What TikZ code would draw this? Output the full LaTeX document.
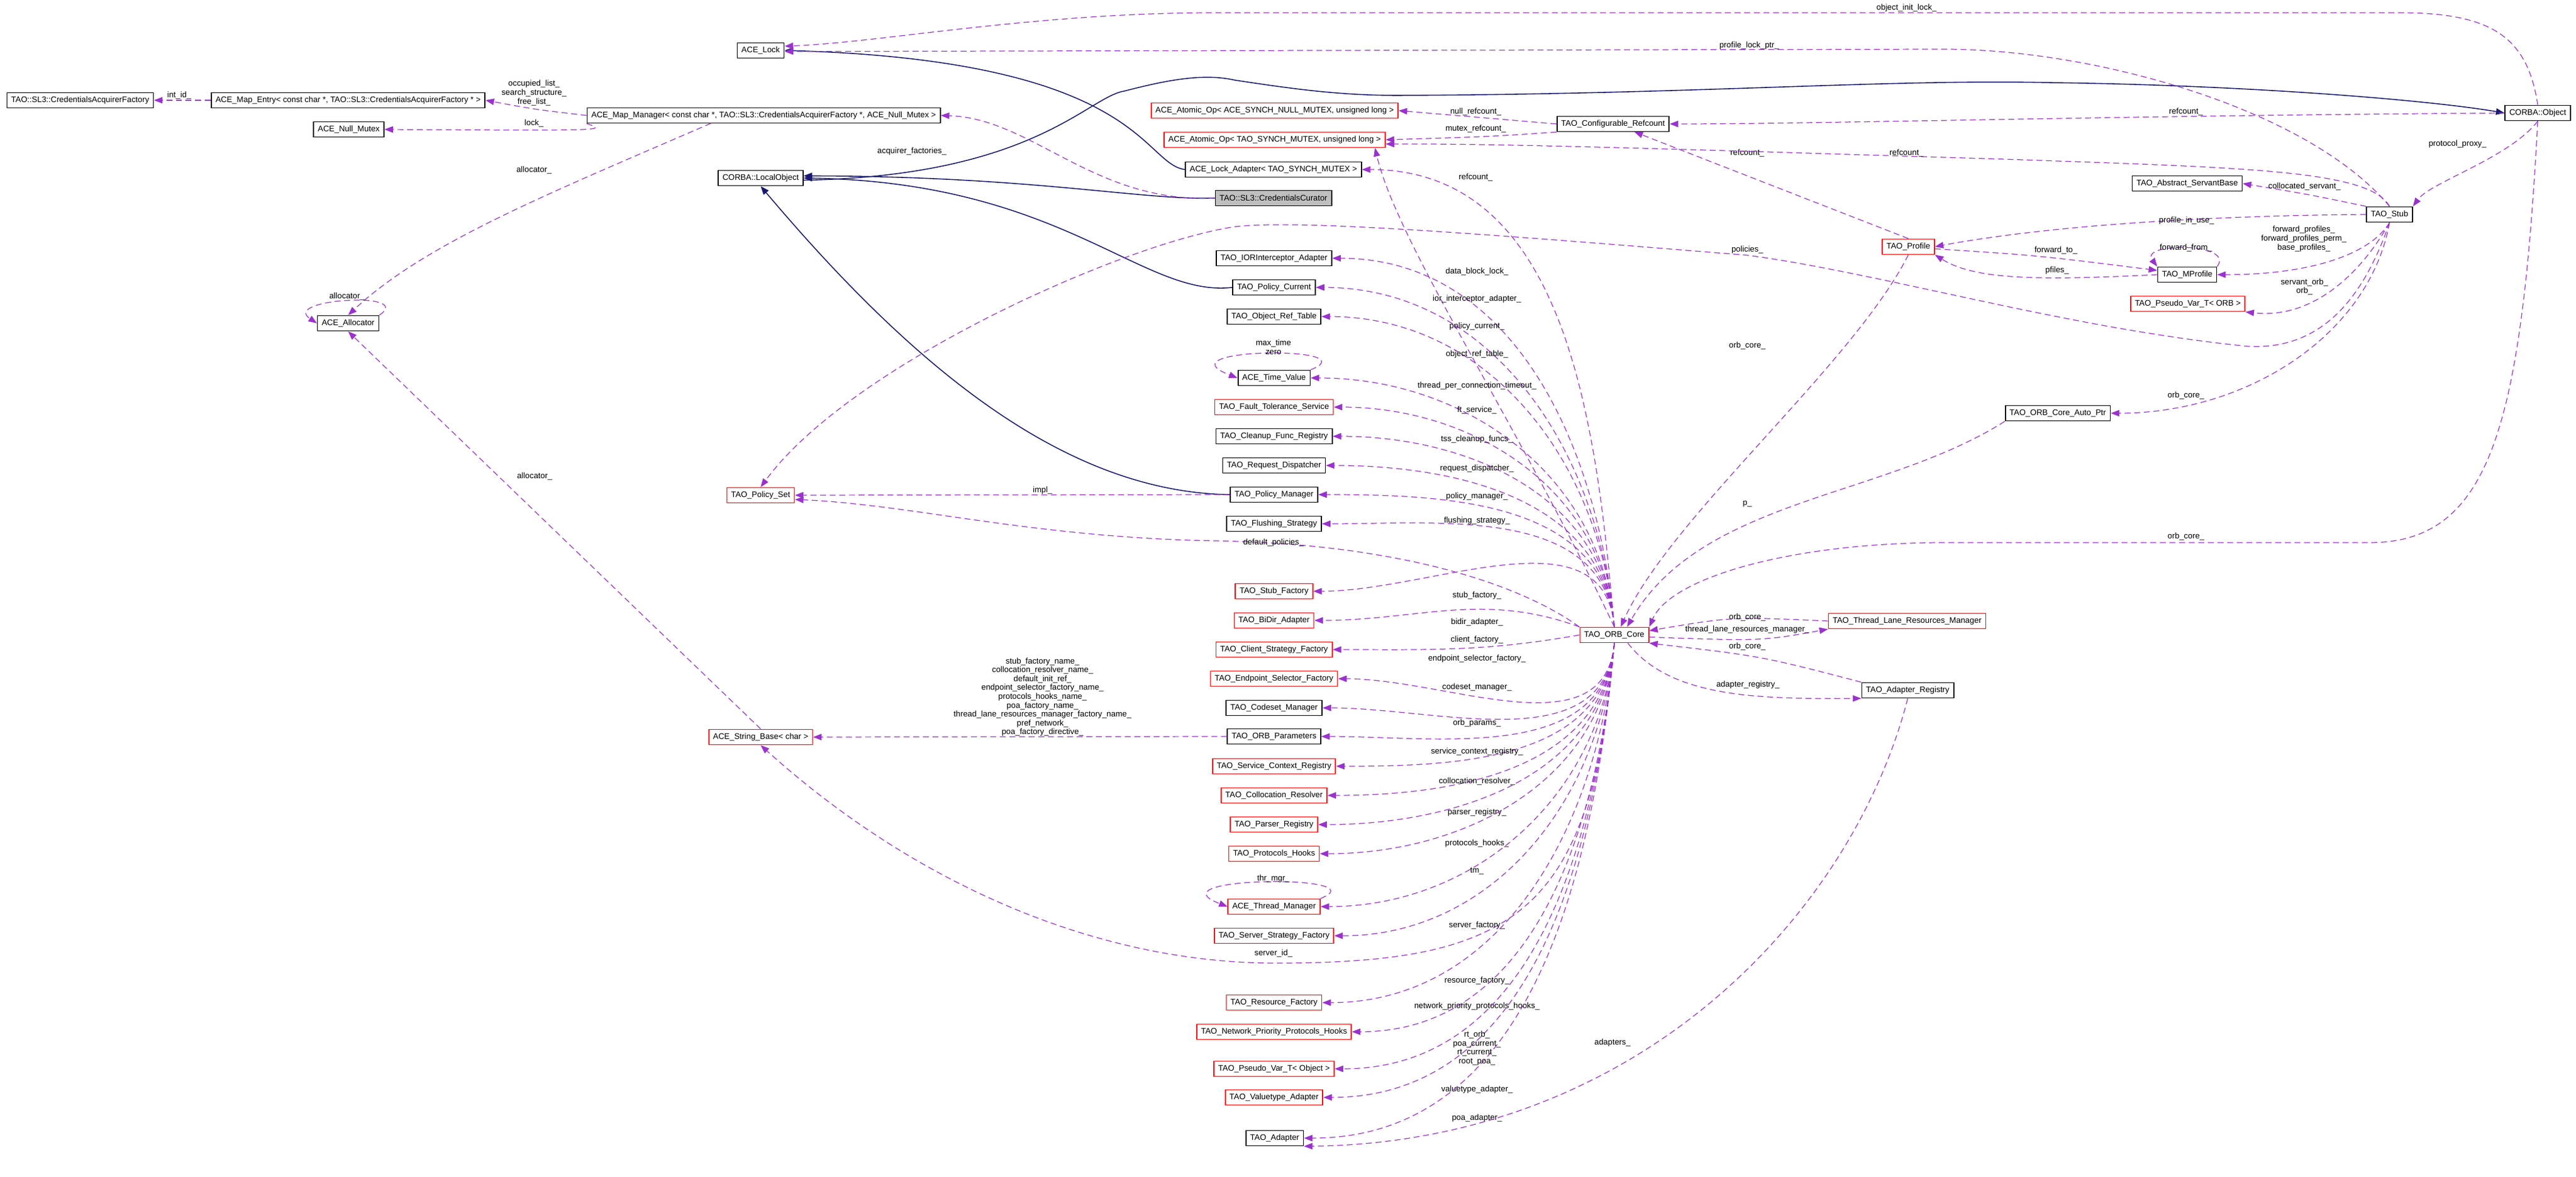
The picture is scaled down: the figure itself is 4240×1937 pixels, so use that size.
\documentclass[tikz,border=0pt]{standalone}
\usepackage{fontspec}
\setmainfont{Liberation Sans}
\usepackage{tikz}
\usetikzlibrary{arrows.meta,positioning}
\definecolor{usepurple}{HTML}{9A32CD}
\definecolor{inhnavy}{HTML}{191970}
\definecolor{curgray}{HTML}{BFBFBF}

\begin{document}
\begin{tikzpicture}[x=0.01cm, y=-0.01cm,
    cls/.style={rectangle, draw=black, fill=white, line width=0.5pt, minimum height=0.25cm,
                inner xsep=0.07cm, inner ysep=0pt, font=\fontsize{3.8}{4.15}\selectfont},
    redcls/.style={cls, draw=red},
    curcls/.style={cls, fill=curgray},
    lbl/.style={align=center, inner sep=0pt, font=\fontsize{3.8}{4.15}\selectfont},
    use/.style={draw=usepurple, line width=0.35pt, dash pattern=on 2.8pt off 1.7pt,
                -{Triangle[length=4pt,width=3pt,fill=usepurple]}},
    inh/.style={draw=inhnavy, line width=0.45pt, -{Triangle[length=4pt,width=3pt,fill=inhnavy]}}
]
    \useasboundingbox (0,0) rectangle (4240,1937);

    % left part
    \node[cls] (fac) at (132,165) {TAO::SL3::CredentialsAcquirerFactory};
    \node[cls] (mapentry) at (573,165) {ACE\_Map\_Entry< const char *, TAO::SL3::CredentialsAcquirerFactory * >};
    \node[cls] (nullmutex) at (574,213) {ACE\_Null\_Mutex};
    \node[cls] (mapmgr) at (1257,190) {ACE\_Map\_Manager< const char *, TAO::SL3::CredentialsAcquirerFactory *, ACE\_Null\_Mutex >};
    \node[cls] (acelock) at (1252,83) {ACE\_Lock};
    \node[cls] (localobj) at (1252,293) {CORBA::LocalObject};
    \node[cls] (alloc) at (573,532) {ACE\_Allocator};
    \node[redcls] (policyset) at (1252,815) {TAO\_Policy\_Set};
    \node[redcls] (strbase) at (1252,1213) {ACE\_String\_Base< char >};

    % middle column
    \node[redcls] (atnull) at (2098,182) {ACE\_Atomic\_Op< ACE\_SYNCH\_NULL\_MUTEX, unsigned long >};
    \node[redcls] (atmutex) at (2098,230) {ACE\_Atomic\_Op< TAO\_SYNCH\_MUTEX, unsigned long >};
    \node[cls] (lockadp) at (2096,279) {ACE\_Lock\_Adapter< TAO\_SYNCH\_MUTEX >};
    \node[curcls] (curator) at (2096,326) {TAO::SL3::CredentialsCurator};
    \node[cls] (iora) at (2097,425) {TAO\_IORInterceptor\_Adapter};
    \node[cls] (polcur) at (2097,473) {TAO\_Policy\_Current};
    \node[cls] (objref) at (2097,521) {TAO\_Object\_Ref\_Table};
    \node[cls] (timeval) at (2097,622) {ACE\_Time\_Value};
    \node[redcls] (ftsvc) at (2097,670) {TAO\_Fault\_Tolerance\_Service};
    \node[cls] (cleanup) at (2097,718) {TAO\_Cleanup\_Func\_Registry};
    \node[cls] (reqdisp) at (2097,766) {TAO\_Request\_Dispatcher};
    \node[cls] (polmgr) at (2097,814) {TAO\_Policy\_Manager};
    \node[cls] (flush) at (2097,862) {TAO\_Flushing\_Strategy};
    \node[redcls] (stubfac) at (2097,973) {TAO\_Stub\_Factory};
    \node[redcls] (bidir) at (2097,1021) {TAO\_BiDir\_Adapter};
    \node[redcls] (clientfac) at (2097,1069) {TAO\_Client\_Strategy\_Factory};
    \node[redcls] (endpt) at (2097,1117) {TAO\_Endpoint\_Selector\_Factory};
    \node[cls] (codeset) at (2097,1165) {TAO\_Codeset\_Manager};
    \node[cls] (orbparams) at (2097,1212) {TAO\_ORB\_Parameters};
    \node[redcls] (svcctx) at (2097,1261) {TAO\_Service\_Context\_Registry};
    \node[redcls] (colloc) at (2097,1309) {TAO\_Collocation\_Resolver};
    \node[redcls] (parser) at (2097,1357) {TAO\_Parser\_Registry};
    \node[redcls] (protohooks) at (2097,1405) {TAO\_Protocols\_Hooks};
    \node[redcls] (thrmgr) at (2097,1492) {ACE\_Thread\_Manager};
    \node[redcls] (serverfac) at (2097,1540) {TAO\_Server\_Strategy\_Factory};
    \node[redcls] (resfac) at (2097,1650) {TAO\_Resource\_Factory};
    \node[redcls] (netprio) at (2097,1698) {TAO\_Network\_Priority\_Protocols\_Hooks};
    \node[redcls] (pvobj) at (2097,1759) {TAO\_Pseudo\_Var\_T< Object >};
    \node[redcls] (valtype) at (2097,1806) {TAO\_Valuetype\_Adapter};
    \node[cls] (adapter) at (2098,1873) {TAO\_Adapter};

    % right part
    \node[redcls] (orbcore) at (2657,1045) {TAO\_ORB\_Core};
    \node[cls] (cfgref) at (2655,204) {TAO\_Configurable\_Refcount};
    \node[cls] (corbaobj) at (4177,186) {CORBA::Object};
    \node[cls] (servant) at (3600,302) {TAO\_Abstract\_ServantBase};
    \node[cls] (stub) at (3933,353) {TAO\_Stub};
    \node[redcls] (profile) at (3141,406) {TAO\_Profile};
    \node[cls] (mprofile) at (3600,452) {TAO\_MProfile};
    \node[redcls] (pvorb) at (3601,500) {TAO\_Pseudo\_Var\_T< ORB >};
    \node[cls] (autoptr) at (3387,680) {TAO\_ORB\_Core\_Auto\_Ptr};
    \node[redcls] (tlrm) at (3139,1022) {TAO\_Thread\_Lane\_Resources\_Manager};
    \node[cls] (adreg) at (3140,1136) {TAO\_Adapter\_Registry};

    % inheritance
    \draw[inh] (lockadp.west) .. controls (1880,270) and (1880,100) .. (acelock.east);
    \draw[inh] (curator.west) .. controls (1880,330) and (1700,290) .. ([yshift=1pt]localobj.east);
    \draw[inh] (polcur.west) .. controls (1880,490) and (1750,300) .. (localobj.east);
    \draw[inh] (polmgr.west) .. controls (1750,810) and (1500,600) .. (localobj.south);
    \draw[inh] ([yshift=-1pt]localobj.east) .. controls (1700,290) and (1790,160) .. (1850,150)
        .. controls (1920,132) and (1980,120) .. (2033,132)
        .. controls (2120,145) and (2200,157) .. (2300,157)
        .. controls (2800,155) and (3100,130) .. (3374,136)
        .. controls (3700,140) and (4000,165) .. (corbaobj.west);

    % ACE side
    \draw[use] (curator.west) .. controls (1800,335) and (1700,195) .. (mapmgr.east);
    \node[lbl] (lacq) at (1501,249) {acquirer\_factories\_};
    \draw[use] (mapmgr.west) .. controls (880,180) .. (mapentry.east);
    \node[lbl] (lmap) at (879,153) {occupied\_list\_\\search\_structure\_\\free\_list\_};
    \draw[use] (mapentry.west) -- (fac.east);
    \node[lbl] (lintid) at (295,157) {int\_id\_};
    \draw[use] (mapmgr.south west) .. controls (1000,215) .. (nullmutex.east);
    \node[lbl] (llock) at (879,203) {lock\_};
    \draw[use] (1170,203) .. controls (900,320) and (700,400) .. (alloc.north);
    \node[lbl] (lalloc1) at (879,280) {allocator\_};
    \draw[use] (alloc.north east) .. controls +(60,-40) and +(-60,-40) .. (alloc.west);
    \node[lbl] (lalloc2) at (571,488) {allocator\_};
    \draw[use] (strbase.north) -- (alloc.south);
    \node[lbl] (lalloc3) at (880,784) {allocator\_};
    \draw[use] (polmgr.west) -- (policyset.east);
    \node[lbl] (limpl) at (1716,807) {impl\_};
    \draw[use] (orbparams.west) -- (strbase.east);
    \node[lbl] (lnames) at (1716,1147) {stub\_factory\_name\_\\collocation\_resolver\_name\_\\default\_init\_ref\_\\endpoint\_selector\_factory\_name\_\\protocols\_hooks\_name\_\\poa\_factory\_name\_\\thread\_lane\_resources\_manager\_factory\_name\_\\pref\_network\_\\poa\_factory\_directive\_};
    \draw[use] (orbcore.south) .. controls (2620,1500) and (2500,1585) .. (2100,1585)
        .. controls (1800,1585) and (1500,1450) .. (strbase.south);
    \node[lbl] (lsrvid) at (2096,1569) {server\_id\_};
    \draw[use] (orbcore.north west) .. controls (2500,960) and (2300,895) .. (2000,890)
        .. controls (1700,885) and (1500,830) .. ([yshift=-2pt]policyset.east);
    \node[lbl] (ldefpol) at (2096,893) {default\_policies\_};

    % locks and refcounts
    \draw[use] (corbaobj.north) .. controls (4160,60) and (4100,21) .. (3950,21) -- (2000,21)
        .. controls (1700,21) and (1450,70) .. ([yshift=2pt]acelock.east);
    \node[lbl] (loil) at (3138,13) {object\_init\_lock\_};
    \draw[use] (stub.north) .. controls (3800,180) and (3450,81) .. (3200,81) -- ([yshift=-0.5pt]acelock.east);
    \node[lbl] (lplp) at (2879,75) {profile\_lock\_ptr\_};
    \draw[use] (corbaobj.west) .. controls (3500,190) and (3000,204) .. (cfgref.east);
    \node[lbl] (lrc1) at (3598,184) {refcount\_};
    \draw[use] (cfgref.west) -- (atnull.east);
    \node[lbl] (lnullrc) at (2429,184) {null\_refcount\_};
    \draw[use] (cfgref.south west) .. controls (2450,225) .. (atmutex.east);
    \node[lbl] (lmutexrc) at (2429,212) {mutex\_refcount\_};
    \draw[use] (profile.north) -- (2690,217);
    \node[lbl] (lrc2) at (2876,252) {refcount\_};
    \draw[use] (stub.north) .. controls (3900,280) and (3700,276) .. (3300,262)
        .. controls (2900,250) and (2500,236) .. ([yshift=-2pt]atmutex.east);
    \node[lbl] (lrc3) at (3138,252) {refcount\_};
    \draw[use] (orbcore.north) .. controls (2500,700) and (2300,400) .. ([xshift=-5pt]atmutex.south east);
    \node[lbl] (lrc4) at (2429,292) {refcount\_};

    % ORB core members, upper column
    \foreach \tgt/\lab/\ly in {lockadp/data\_block\_lock\_/447, iora/ior\_interceptor\_adapter\_/492,
        polcur/policy\_current\_/537, objref/object\_ref\_table\_/583,
        timeval/thread\_per\_connection\_timeout\_/635, ftsvc/ft\_service\_/675,
        cleanup/tss\_cleanup\_funcs\_/723, reqdisp/request\_dispatcher\_/771,
        polmgr/policy\_manager\_/817, flush/flushing\_strategy\_/857, stubfac/stub\_factory\_/980}
    {
        \draw[use] (orbcore.north) to[out=95, in=0] (\tgt.east);
        \node[lbl] (l\tgt) at (2431,\ly) {\lab};
    }
    \draw[use] (orbcore.north west) to[out=160, in=0] (bidir.east);
    \node[lbl] (lbidir) at (2431,1024) {bidir\_adapter\_};
    \draw[use] (orbcore.west) to[out=190, in=0] (clientfac.east);
    \node[lbl] (lclient) at (2431,1053) {client\_factory\_};

    % ORB core members, lower column
    \foreach \tgt/\lab/\ly in {endpt/endpoint\_selector\_factory\_/1084, codeset/codeset\_manager\_/1131,
        orbparams/orb\_params\_/1190, svcctx/service\_context\_registry\_/1237,
        colloc/collocation\_resolver\_/1286, parser/parser\_registry\_/1337,
        protohooks/protocols\_hooks\_/1388, thrmgr/tm\_/1433, serverfac/server\_factory\_/1523,
        resfac/resource\_factory\_/1614, netprio/network\_priority\_protocols\_hooks\_/1656,
        valtype/valuetype\_adapter\_/1793, adapter/poa\_adapter\_/1840}
    {
        \draw[use] (orbcore.south) to[out=265, in=0] (\tgt.east);
        \node[lbl] (l\tgt) at (2431,\ly) {\lab};
    }
    \draw[use] (orbcore.south) to[out=265, in=0] (pvobj.east);
    \node[lbl] (lpvobj) at (2431,1725) {rt\_orb\_\\poa\_current\_\\rt\_current\_\\root\_poa\_};

    % self loops
    \draw[use] (timeval.north east) .. controls +(100,-40) and +(-130,-50) .. (timeval.west);
    \node[lbl] (ltv) at (2096,571) {max\_time\\zero};
    \draw[use] (thrmgr.north east) .. controls +(100,-40) and +(-130,-50) .. (thrmgr.west);
    \node[lbl] (lthr) at (2096,1446) {thr\_mgr\_};
    \draw[use] (mprofile.north east) .. controls +(30,-40) and +(-30,-40) .. (mprofile.north west);
    \node[lbl] (lffrom) at (3598,408) {forward\_from\_};

    % stub, profile and orb core links
    \draw[use] (corbaobj.south) .. controls (4130,260) and (4000,300) .. (stub.north east);
    \node[lbl] (lproxy) at (4045,237) {protocol\_proxy\_};
    \draw[use] (stub.north west) .. controls (3800,320) .. (servant.east);
    \node[lbl] (lcolloc) at (3793,307) {collocated\_servant\_};
    \draw[use] (stub.west) .. controls (3600,355) and (3350,375) .. (profile.east);
    \node[lbl] (lpiu) at (3599,363) {profile\_in\_use\_};
    \draw[use] (stub.south) .. controls (3900,420) and (3800,452) .. (mprofile.east);
    \node[lbl] (lfwd) at (3792,393) {forward\_profiles\_\\forward\_profiles\_perm\_\\base\_profiles\_};
    \draw[use] ([yshift=-1pt]profile.east) .. controls (3350,420) .. ([yshift=2pt]mprofile.west);
    \node[lbl] (lfto) at (3384,412) {forward\_to\_};
    \draw[use] (mprofile.west) .. controls (3350,462) and (3250,460) .. (profile.south east);
    \node[lbl] (lpfiles) at (3386,445) {pfiles\_};
    \draw[use] (stub.south) .. controls (3880,460) and (3800,525) .. (pvorb.south east);
    \node[lbl] (lsorb) at (3793,472) {servant\_orb\_\\orb\_};
    \draw[use] (stub.south) .. controls (3900,550) and (3700,680) .. (autoptr.east);
    \node[lbl] (lac) at (3598,651) {orb\_core\_};
    \draw[use] (stub.south) .. controls (3880,520) and (3800,575) .. (3700,570)
        .. controls (3400,540) and (3100,450) .. (2876,420)
        .. controls (2500,390) and (2150,360) .. (2033,373)
        .. controls (1850,400) and (1400,600) .. (policyset.north);
    \node[lbl] (lpolicies) at (2876,411) {policies\_};
    \draw[use] (profile.south) .. controls (3050,600) and (2750,850) .. ([xshift=3pt]orbcore.north);
    \node[lbl] (lpoc) at (2876,569) {orb\_core\_};
    \draw[use] (autoptr.south west) .. controls (3100,820) and (2800,820) .. ([xshift=6pt]orbcore.north);
    \node[lbl] (lp) at (2876,829) {p\_};
    \draw[use] (corbaobj.south) .. controls (4150,700) and (4100,893) .. (3900,893) -- (3200,893)
        .. controls (2950,893) and (2750,950) .. (orbcore.north east);
    \node[lbl] (lcoc) at (3598,883) {orb\_core\_};
    \draw[use] (tlrm.west) .. controls (2850,1015) .. ([yshift=2pt]orbcore.east);
    \node[lbl] (ltoc) at (2876,1016) {orb\_core\_};
    \draw[use] ([yshift=-1pt]orbcore.east) .. controls (2900,1055) .. (tlrm.south west);
    \node[lbl] (ltlrm) at (2876,1036) {thread\_lane\_resources\_manager\_};
    \draw[use] (adreg.north west) .. controls (2900,1080) .. (orbcore.south east);
    \node[lbl] (laoc) at (2876,1064) {orb\_core\_};
    \draw[use] ([xshift=-10pt]orbcore.south east) .. controls (2750,1150) and (2900,1150) .. (adreg.south west);
    \node[lbl] (lareg) at (2877,1127) {adapter\_registry\_};
    \draw[use] (adreg.south) .. controls (3050,1500) and (2700,1880) .. (adapter.south east);
    \node[lbl] (ladapters) at (2654,1716) {adapters\_};
\end{tikzpicture}
\end{document}
